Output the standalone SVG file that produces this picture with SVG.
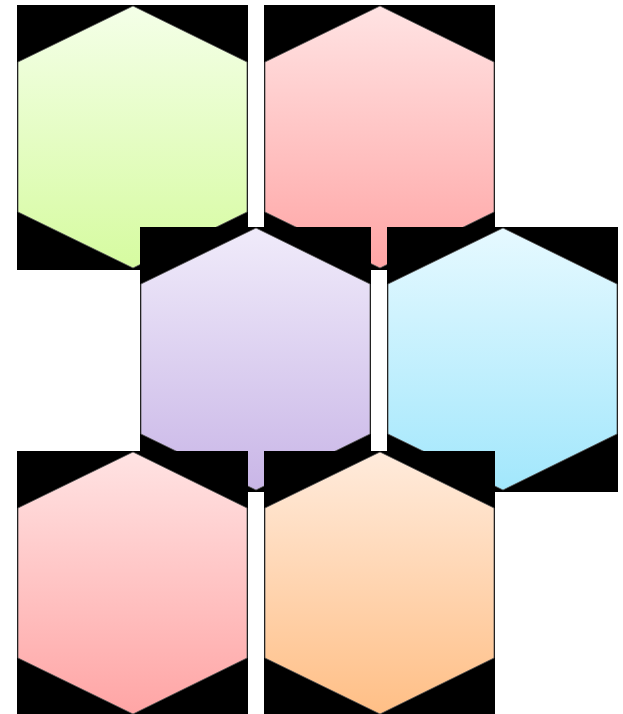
<svg xmlns="http://www.w3.org/2000/svg" width="623" height="714" viewBox="0 0 623 714">
<style>
.bg{fill:#000}
.hex{stroke:#555;stroke-width:1;stroke-opacity:0.8}
</style>
<defs>
<linearGradient id="gGreen" x1="0" y1="0" x2="0" y2="1"><stop offset="0" stop-color="#f4ffe8"/><stop offset="1" stop-color="#d6fba0"/></linearGradient>
<linearGradient id="gPink" x1="0" y1="0" x2="0" y2="1"><stop offset="0" stop-color="#ffe3e3"/><stop offset="1" stop-color="#ffa5a5"/></linearGradient>
<linearGradient id="gPurple" x1="0" y1="0" x2="0" y2="1"><stop offset="0" stop-color="#f0ebfa"/><stop offset="1" stop-color="#c9b6e7"/></linearGradient>
<linearGradient id="gBlue" x1="0" y1="0" x2="0" y2="1"><stop offset="0" stop-color="#e6f9ff"/><stop offset="1" stop-color="#a2e7fc"/></linearGradient>
<linearGradient id="gOrange" x1="0" y1="0" x2="0" y2="1"><stop offset="0" stop-color="#ffebdc"/><stop offset="1" stop-color="#ffbf86"/></linearGradient>
<polygon id="hexShape" points="116,1 230,57 230,207 116,263 1,207 1,57"/>
</defs>
<g id="connectors"/>
<g id="node1" transform="translate(17,5)">
<rect class="bg" width="231" height="265"/>
<use href="#hexShape" class="hex" fill="url(#gGreen)"/>
</g>
<g id="node2" transform="translate(264,5)">
<rect class="bg" width="231" height="265"/>
<use href="#hexShape" class="hex" fill="url(#gPink)"/>
</g>
<g id="node3" transform="translate(140,227)">
<rect class="bg" width="231" height="265"/>
<use href="#hexShape" class="hex" fill="url(#gPurple)"/>
</g>
<g id="node4" transform="translate(387,227)">
<rect class="bg" width="231" height="265"/>
<use href="#hexShape" class="hex" fill="url(#gBlue)"/>
</g>
<g id="node5" transform="translate(17,451)">
<rect class="bg" width="231" height="265"/>
<use href="#hexShape" class="hex" fill="url(#gPink)"/>
</g>
<g id="node6" transform="translate(264,451)">
<rect class="bg" width="231" height="265"/>
<use href="#hexShape" class="hex" fill="url(#gOrange)"/>
</g>
</svg>
